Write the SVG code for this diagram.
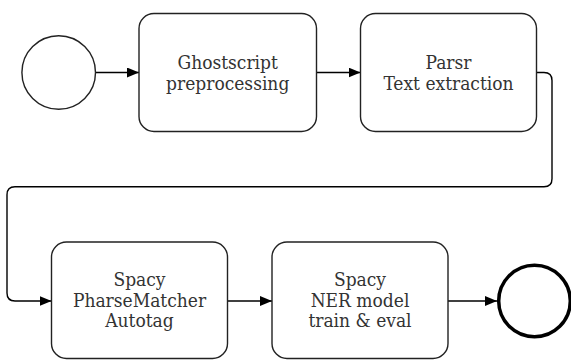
<svg xmlns="http://www.w3.org/2000/svg" width="571" height="360" viewBox="0 0 571 360">
<defs>
<marker id="arr" viewBox="0 0 12 10" refX="12" refY="5" markerWidth="12" markerHeight="10" markerUnits="userSpaceOnUse" orient="auto">
<path d="M0,0 L12,5 L0,10 Z" fill="#000"/>
</marker>
<style>
.box{fill:#fff;stroke:#222;stroke-width:1.4}
.lbl{font-family:"DejaVu Serif Condensed","DejaVu Serif",serif;font-stretch:condensed;font-size:19px;fill:#333;text-anchor:middle}
.edge{fill:none;stroke:#000;stroke-width:1.4}
</style>
</defs>
<rect width="571" height="360" fill="#fff"/>
<g id="connectors">
<path class="edge" d="M95.7,72.5 H139" marker-end="url(#arr)"/>
<path class="edge" d="M316.5,72.5 H360.5" marker-end="url(#arr)"/>
<path class="edge" d="M536.5,72.5 H544 Q552,72.5 552,80.5 V178.7 Q552,186.7 544,186.7 H15 Q7,186.7 7,194.7 V293 Q7,301 15,301 H51.5" marker-end="url(#arr)"/>
<path class="edge" d="M227.5,301 H272" marker-end="url(#arr)"/>
<path class="edge" d="M448,301 H497" marker-end="url(#arr)"/>
</g>
<g id="start">
<circle cx="58.7" cy="72.5" r="36.8" fill="#fff" stroke="#222" stroke-width="1.4"/>
</g>
<g id="ghostscript">
<rect class="box" x="139" y="13.5" width="177.5" height="118" rx="15"/>
<text class="lbl" x="227.7" y="69">Ghostscript</text>
<text class="lbl" x="227.7" y="89.5">preprocessing</text>
</g>
<g id="parsr">
<rect class="box" x="360.5" y="13.5" width="176" height="118" rx="15"/>
<text class="lbl" x="448.5" y="69">Parsr</text>
<text class="lbl" x="448.5" y="89.5">Text extraction</text>
</g>
<g id="phrasematcher">
<rect class="box" x="51.5" y="242" width="176" height="116.5" rx="15"/>
<text class="lbl" x="139.5" y="286">Spacy</text>
<text class="lbl" x="139.5" y="306.5">PharseMatcher</text>
<text class="lbl" x="139.5" y="327">Autotag</text>
</g>
<g id="ner">
<rect class="box" x="272" y="242" width="176" height="116.5" rx="15"/>
<text class="lbl" x="360" y="286">Spacy</text>
<text class="lbl" x="360" y="306.5">NER model</text>
<text class="lbl" x="360" y="327">train &amp; eval</text>
</g>
<g id="end">
<circle cx="534.5" cy="301" r="35.8" fill="#fff" stroke="#000" stroke-width="3.5"/>
</g>
</svg>
